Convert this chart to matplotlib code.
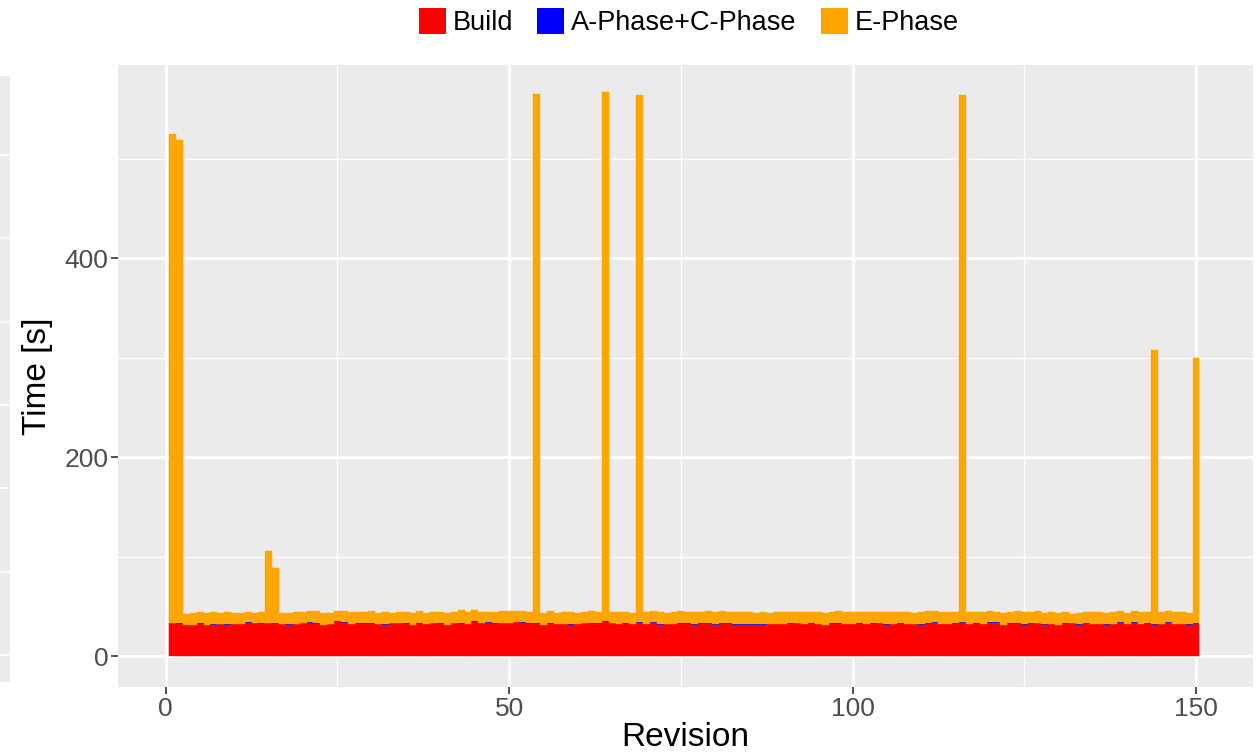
import numpy as np
import matplotlib.pyplot as plt
from matplotlib.patches import Patch

plt.rcParams['font.family'] = ['Liberation Sans', 'DejaVu Sans']

# revision timings
revision = list(range(1, 151))
build = [33, 32, 31, 31, 32, 31, 31, 32, 31, 32,
         32, 33, 33, 32, 33, 32, 32, 31, 32, 33,
         33, 32, 31, 32, 34, 33, 32, 32, 32, 32,
         32, 31, 33, 33, 32, 31, 32, 32, 33, 32,
         31, 33, 32, 32, 34, 33, 33, 32, 33, 33,
         34, 33, 32, 32, 31, 32, 32, 32, 31, 32,
         33, 32, 32, 34, 33, 32, 32, 32, 33, 32,
         33, 31, 32, 32, 32, 32, 31, 32, 32, 31,
         32, 32, 31, 31, 31, 31, 31, 32, 32, 32,
         32, 33, 32, 32, 32, 31, 32, 32, 32, 32,
         32, 32, 32, 33, 31, 32, 32, 32, 32, 31,
         32, 33, 32, 32, 32, 33, 32, 32, 32, 33,
         33, 31, 32, 32, 31, 32, 33, 31, 32, 31,
         32, 33, 31, 32, 32, 32, 31, 32, 33, 32,
         33, 32, 32, 31, 32, 33, 32, 32, 31, 32]
a_c_phase = [0.5, 1.0, 0.8, 0.6, 1.0, 0.7, 1.2, 0.6, 1.5, 0.8,
             0.6, 1.4, 0.7, 1.0, 0.8, 0.9, 0.6, 1.8, 0.7, 0.6,
             1.5, 1.0, 0.6, 0.8, 1.0, 1.2, 0.6, 1.5, 0.9, 1.4,
             0.6, 1.6, 0.7, 0.8, 1.5, 0.6, 1.0, 0.7, 0.8, 1.4,
             0.6, 0.8, 1.3, 0.7, 0.9, 0.6, 1.0, 1.5, 0.8, 0.7,
             0.6, 1.2, 0.9, 1.4, 0.8, 1.5, 0.7, 0.6, 1.0, 0.8,
             0.7, 0.9, 1.5, 1.0, 0.6, 0.8, 1.5, 0.7, 0.9, 0.6,
             1.2, 1.6, 0.8, 0.7, 0.9, 1.5, 1.6, 1.8, 1.5, 1.6,
             1.5, 1.6, 1.8, 1.7, 1.5, 1.5, 1.6, 0.8, 0.7, 0.6,
             0.9, 0.7, 0.8, 1.6, 0.7, 0.8, 1.5, 0.9, 0.7, 0.8,
             1.5, 0.8, 1.6, 0.7, 0.9, 0.8, 1.4, 0.7, 0.8, 1.5,
             0.9, 1.6, 0.8, 0.7, 1.4, 0.9, 0.8, 1.5, 0.7, 1.4,
             1.8, 0.8, 1.5, 1.4, 0.9, 1.5, 0.8, 1.6, 0.7, 0.8,
             1.5, 0.8, 1.7, 1.4, 0.8, 0.7, 1.6, 0.8, 1.5, 0.8,
             1.6, 0.8, 1.4, 1.6, 0.7, 1.5, 0.8, 0.7, 1.5, 0.9]
e_phase = [491, 486, 11, 12, 11, 12, 12, 11, 12, 11,
           11, 10, 10, 11, 72, 56, 11, 11, 12, 11,
           11, 12, 12, 11, 10, 11, 12, 11, 11, 12,
           11, 12, 10, 11, 11, 12, 12, 11, 11, 11,
           12, 11, 13, 12, 11, 11, 10, 11, 12, 12,
           11, 11, 11, 531, 12, 12, 11, 12, 12, 11,
           11, 12, 11, 532, 11, 12, 11, 11, 530, 12,
           11, 12, 11, 12, 12, 11, 12, 11, 12, 12,
           12, 11, 12, 12, 12, 11, 12, 11, 12, 12,
           11, 11, 12, 11, 12, 12, 11, 12, 12, 12,
           11, 12, 11, 11, 12, 12, 11, 12, 11, 12,
           12, 11, 12, 12, 11, 530, 12, 11, 12, 11,
           10, 12, 11, 12, 12, 11, 12, 11, 12, 12,
           11, 9, 11, 11, 12, 12, 11, 12, 11, 11,
           11, 12, 11, 275, 12, 11, 12, 12, 11, 267]

col_build = '#FF0000'
col_ac = '#0000FF'
col_e = '#FFA500'
panel = '#EBEBEB'

fig = plt.figure(figsize=(12.58, 7.54), dpi=100)

# sliver of a neighbouring panel at the left edge
strip = fig.add_axes([0, 72/754, 10/1258, 606/754])
strip.set_facecolor(panel)
strip.set_xlim(0, 1)
strip.set_ylim(682, 76)
for yy in [155, 238, 322, 405, 488, 572, 655]:
    strip.axhline(yy, color='white', lw=1.2)
strip.set_xticks([])
strip.set_yticks([])
for s in strip.spines.values():
    s.set_visible(False)

ax = fig.add_axes([118/1258, 67/754, 1135/1258, 622/754])
ax.set_facecolor(panel)

x = np.array(revision)
b = np.array(build)
ac = np.array(a_c_phase)
e = np.array(e_phase)
ax.bar(x, b, width=1, color=col_build, edgecolor=col_build, lw=0.3)
ax.bar(x, ac, width=1, bottom=b, color=col_ac, edgecolor='none', lw=0)
ax.bar(x, e, width=1, bottom=b + ac, color=col_e, edgecolor=col_e, lw=0.3)

ax.set_xlim(-6.95, 158.3)
ax.set_ylim(-31, 594)
ax.set_xticks([0, 50, 100, 150])
ax.set_xticks([25, 75, 125], minor=True)
ax.set_yticks([0, 200, 400])
ax.set_yticks([100, 300, 500], minor=True)
ax.grid(which='major', color='white', lw=2)
ax.grid(which='minor', color='white', lw=1)
ax.set_axisbelow(True)
for s in ax.spines.values():
    s.set_visible(False)
ax.tick_params(which='major', length=5, width=1.2, color='#333333',
               labelcolor='#4D4D4D', labelsize=19, pad=2)
ax.tick_params(which='minor', length=0)

ax.set_xlabel('Revision', fontsize=24, labelpad=1)
ax.set_ylabel('Time [s]', fontsize=24, labelpad=8)

handles = [Patch(facecolor=col_build, label='Build'),
           Patch(facecolor=col_ac, label='A-Phase+C-Phase'),
           Patch(facecolor=col_e, label='E-Phase')]
fig.legend(handles=handles, loc='upper center', bbox_to_anchor=(0.5475, 1.022),
           ncol=3, frameon=False, fontsize=19.5, handlelength=1.0,
           handleheight=1.1, handletextpad=0.25, columnspacing=0.9)

plt.savefig('out.png', dpi=100)
